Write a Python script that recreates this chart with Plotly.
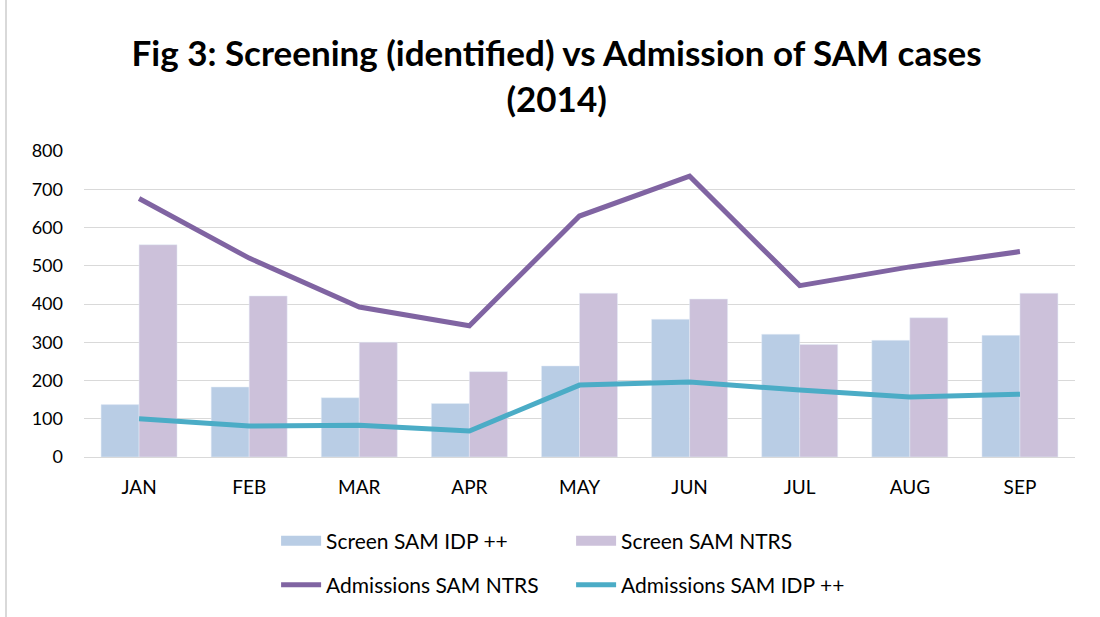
import plotly.graph_objects as go

months = ['JAN', 'FEB', 'MAR', 'APR', 'MAY', 'JUN', 'JUL', 'AUG', 'SEP']
screen_idp = [137, 183, 155, 140, 238, 360, 321, 305, 318]
screen_ntrs = [555, 421, 300, 223, 428, 413, 294, 364, 428]
adm_ntrs = [676, 520, 392, 343, 630, 734, 448, 497, 537]
adm_idp = [100, 81, 83, 68, 188, 196, 175, 157, 164]

font = 'Lato'
blue_bar = '#B9CDE5'
purple_bar = '#CCC1DA'

fig = go.Figure()

# bars (legend shown through wide line swatches below)
fig.add_trace(go.Bar(x=months, y=screen_idp, name='Screen SAM IDP ++',
                     marker_color=blue_bar, legendgroup='idp', showlegend=False))
fig.add_trace(go.Bar(x=months, y=screen_ntrs, name='Screen SAM NTRS',
                     marker_color=purple_bar, legendgroup='ntrs', showlegend=False))
fig.add_trace(go.Scatter(x=[None], y=[None], name='Screen SAM IDP ++', mode='lines',
                         line=dict(color=blue_bar, width=14), legendgroup='idp',
                         legend='legend'))
fig.add_trace(go.Scatter(x=[None], y=[None], name='Screen SAM NTRS', mode='lines',
                         line=dict(color=purple_bar, width=14), legendgroup='ntrs',
                         legend='legend'))

fig.add_trace(go.Scatter(x=months, y=adm_ntrs, name='Admissions SAM NTRS',
                         mode='lines', line=dict(color='#8064A2', width=5),
                         legend='legend2'))
fig.add_trace(go.Scatter(x=months, y=adm_idp, name='Admissions SAM IDP ++',
                         mode='lines', line=dict(color='#4BACC6', width=5),
                         legend='legend2'))

legend_style = dict(orientation='h', xref='container', yref='container',
                    xanchor='left', yanchor='middle',
                    entrywidth=240, entrywidthmode='pixels',
                    font=dict(family=font, size=21, color='#000'),
                    itemwidth=40, bgcolor='rgba(0,0,0,0)')

fig.update_layout(
    title=dict(text='<b>Fig 3: Screening (identified) vs Admission of SAM cases<br>(2014)</b>',
               x=0.506, xanchor='center', y=0.893, yanchor='middle',
               font=dict(family=font, size=35, color='#000')),
    width=1100, height=617,
    margin=dict(l=84, r=25, t=151, b=160),
    paper_bgcolor='white', plot_bgcolor='white',
    barmode='group', bargap=0.31, bargroupgap=0,
    font=dict(family=font, size=18, color='#000'),
    legend=dict(x=0.251, y=1 - 541 / 617, **legend_style),
    legend2=dict(x=0.251, y=1 - 585 / 617, **legend_style),
    xaxis=dict(showgrid=False, showline=True, linecolor='#D9D9D9', linewidth=1,
               ticks='', ticklabelstandoff=13,
               tickfont=dict(family=font, size=19, color='#000')),
    yaxis=dict(range=[0, 800], dtick=100, showgrid=True, gridcolor='#D9D9D9',
               gridwidth=1, zeroline=False, showline=False, ticklabelstandoff=20,
               tickfont=dict(family=font, size=18, color='#000')),
    shapes=[dict(type='line', xref='paper', yref='paper', x0=-78 / 991, x1=-78 / 991,
                 y0=-160 / 306, y1=151 / 306 + 1,
                 line=dict(color='#D9D9D9', width=2))],
)

fig.write_html('out.html', config={'displayModeBar': False},
               post_script="document.body.style.margin='0';")
